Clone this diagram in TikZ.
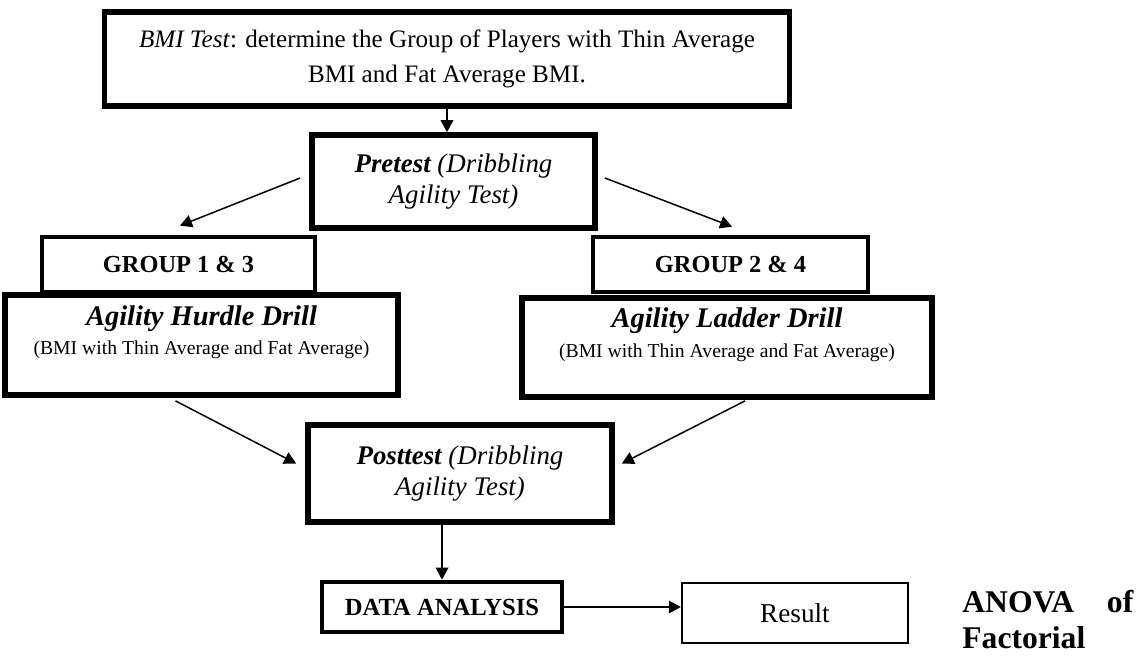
\documentclass[tikz,border=0pt]{standalone}
\usepackage{fontspec}
\setmainfont{Liberation Serif}
\usetikzlibrary{arrows.meta,calc}

\begin{document}
\begin{tikzpicture}[x=0.02cm,y=-0.02cm,
  bigbox/.style={draw,line width=3.3pt,inner sep=0pt,align=center},
  midbox/.style={draw,line width=2.7pt,inner sep=0pt,align=center},
  thinbox/.style={draw,line width=1.4pt,inner sep=0pt,align=center},
  arr/.style={-{Triangle[length=6.8pt,width=7.2pt]},line width=0.85pt}]
\useasboundingbox (0,0) rectangle (1142,656);
%\node {\includegraphics{flow.jpg}};
\node[bigbox,minimum width=13.7cm,minimum height=1.88cm,font=\fontsize{14.3}{20}\selectfont] (bmi) at (447,59)
  {\textit{BMI Test}: determine the Group of Players with Thin Average\\BMI and Fat Average BMI.};
\node[bigbox,minimum width=5.66cm,minimum height=1.86cm,font=\itshape\fontsize{15.3}{17.5}\selectfont] (pretest) at (453.5,181.5)
  {\textbf{Pretest} (Dribbling\\Agility Test)};
\node[midbox,minimum width=5.46cm,minimum height=1.1cm,font=\bfseries\fontsize{13.9}{15}\selectfont] (group13) at (178.5,264.5) {GROUP 1 \& 3};
\node[midbox,minimum width=5.5cm,minimum height=1.1cm,font=\bfseries\fontsize{13.9}{15}\selectfont] (group24) at (730.5,264.5) {GROUP 2 \& 4};
\node[bigbox,minimum width=7.86cm,minimum height=2cm,font=\fontsize{16.2}{16.8}\selectfont] (hurdle) at (201.5,345)
  {\textbf{\textit{Agility Hurdle Drill}}\\{\fontsize{11.2}{13}\selectfont(BMI with Thin Average and Fat Average)}\rule[-17pt]{0pt}{17pt}};
\node[bigbox,minimum width=8.2cm,minimum height=1.98cm,font=\fontsize{16.2}{16.8}\selectfont] (ladder) at (727,347.5)
  {\textbf{\textit{Agility Ladder Drill}}\\{\fontsize{11.2}{13}\selectfont(BMI with Thin Average and Fat Average)}\rule[-17pt]{0pt}{17pt}};
\node[bigbox,minimum width=6.08cm,minimum height=1.94cm,font=\itshape\fontsize{15.3}{17.5}\selectfont] (posttest) at (460,473.5)
  {\textbf{Posttest} (Dribbling\\Agility Test)};
\node[midbox,minimum width=4.8cm,minimum height=1cm,font=\bfseries\fontsize{14}{15}\selectfont] (data) at (442,607) {DATA ANALYSIS};
\node[thinbox,minimum width=4.52cm,minimum height=1.2cm,font=\fontsize{15.5}{17}\selectfont] (result) at (795,613) {Result};
\node[anchor=base west,inner sep=0pt,text width=3.42cm,font=\bfseries\fontsize{18}{22}\selectfont] (anova) at (962,612) {ANOVA\hfill of};
\node[anchor=base west,inner sep=0pt,font=\bfseries\fontsize{18}{22}\selectfont] (factorial) at (962,648) {Factorial};

\draw[arr] (bmi.south) -- (bmi.south |- pretest.north);
\draw[arr] ($(pretest.west)+(-9,-3.5)$) -- ($(group13.north)+(1.5,-9)$);
\draw[arr] ($(pretest.east)+(7,-3.5)$) -- ($(group24.north)+(1.5,-8)$);
\draw[arr] ($(hurdle.south)+(-26,3)$) -- ($(posttest.west)+(-9,-10)$);
\draw[arr] ($(ladder.south)+(18,1)$) -- ($(posttest.east)+(7,-10)$);
\draw[arr] (data.north |- posttest.south) -- (data.north);
\draw[arr] (data.east) -- (result.west |- data.east);
\end{tikzpicture}
\end{document}
